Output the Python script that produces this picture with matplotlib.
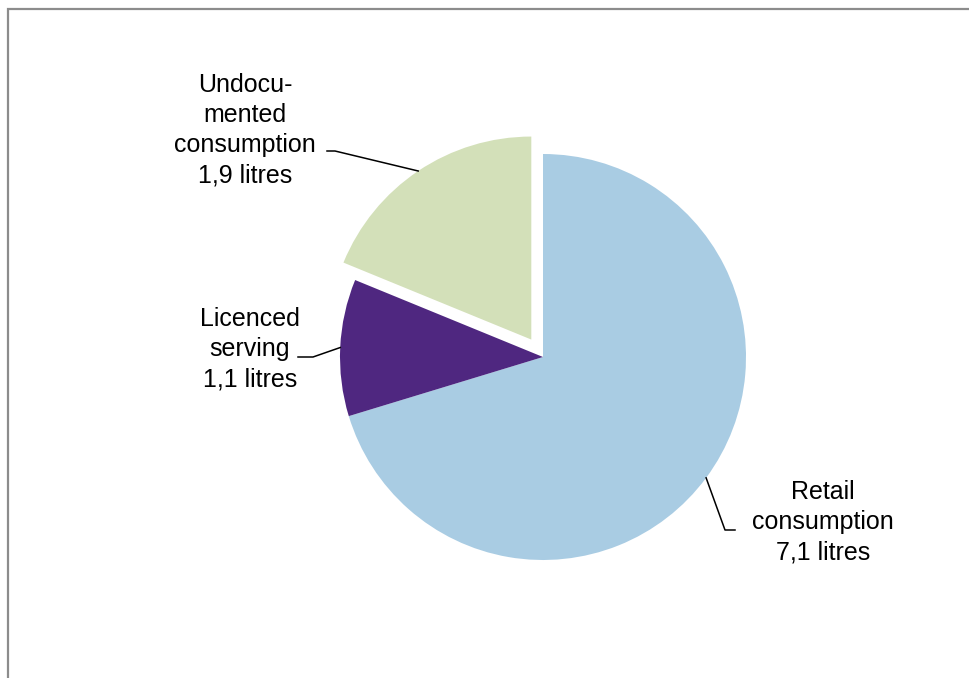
import numpy as np
import matplotlib.pyplot as plt
from matplotlib.patches import Rectangle

plt.rcParams['font.family'] = ['Liberation Sans', 'DejaVu Sans']

categories = ['Retail\nconsumption', 'Licenced\nserving', 'Undocu-\nmented\nconsumption']
values = [7.1, 1.1, 1.9]
colors = ['#A9CCE3', '#4F2780', '#D3E0B9']
explode = [0, 0, 21]  # pixels

W, H = 970, 678
fig = plt.figure(figsize=(W / 100, H / 100), dpi=100)
ax = fig.add_axes([0, 0, 1, 1])

# figure frame (bleeds off right and bottom edges)
fig.patches.append(Rectangle((8 / W, -0.1), 1.2, (H - 9) / H + 0.1, transform=fig.transFigure,
                             fill=False, edgecolor='#8c8c8c', linewidth=1.6))

cx, cy, r = 543, H - 357, 203
wedges, _ = ax.pie(values, colors=colors, explode=explode, startangle=90,
                   counterclock=False, center=(cx, cy), radius=r, frame=True,
                   wedgeprops=dict(linewidth=0))
ax.set_xlim(0, W)
ax.set_ylim(0, H)
ax.set_aspect('equal')
ax.axis('off')

# label text centre, elbow start/end (pixel coords, y down)
label_pos = [(823, 522), (250, 349), (245, 130)]
elbows = [((735, 530), (725, 530)), ((298, 357), (313, 357)), ((327, 151), (335, 151))]

for w, cat, v, (tx, ty), (e0, e1) in zip(wedges, categories, values, label_pos, elbows):
    ang = np.deg2rad((w.theta1 + w.theta2) / 2)
    wx = w.center[0] + w.r * np.cos(ang)
    wy = w.center[1] + w.r * np.sin(ang)
    ax.plot([e0[0], e1[0], wx], [H - e0[1], H - e1[1], wy], color='black', lw=1.1)
    txt = cat + '\n' + ('%.1f' % v).replace('.', ',') + ' litres'
    ax.text(tx, H - ty, txt, ha='center', va='center', fontsize=18, linespacing=1.33)

fig.savefig('out.png', dpi=100)
